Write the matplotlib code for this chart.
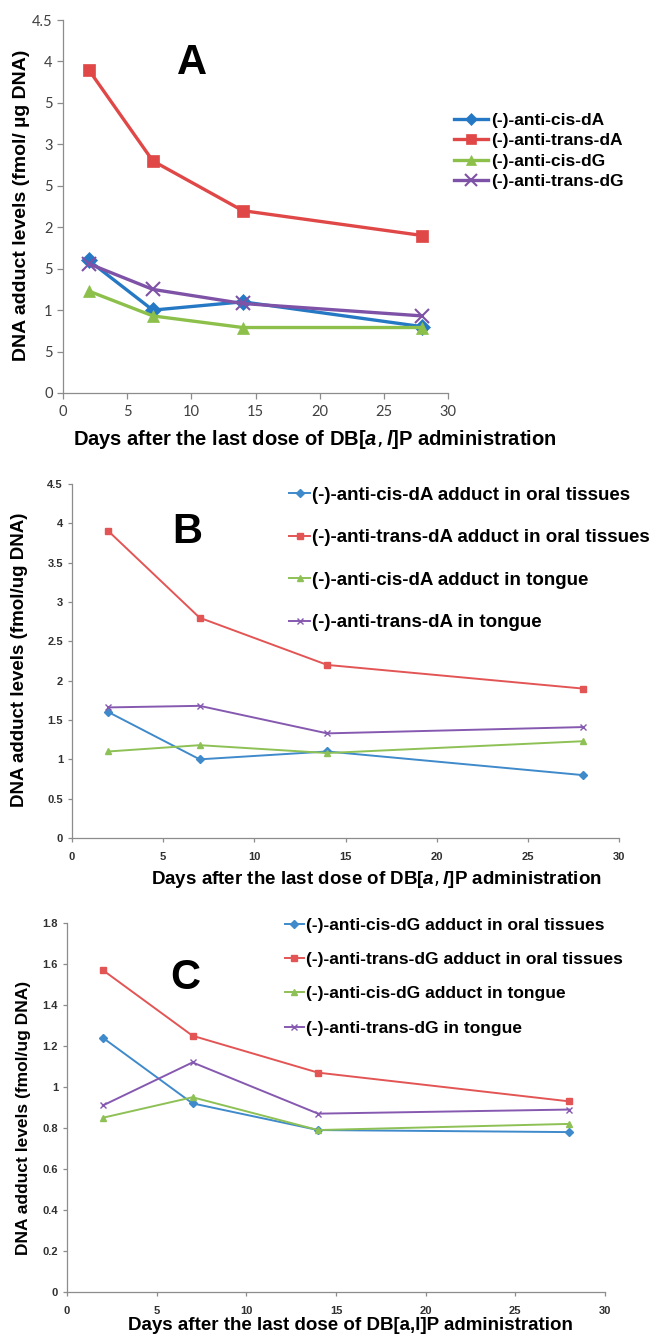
import matplotlib
matplotlib.use("agg")
import matplotlib.pyplot as plt

# data
DAYS = [2, 7, 14, 28]

A_LABELS = ["(-)-anti-cis-dA", "(-)-anti-trans-dA", "(-)-anti-cis-dG", "(-)-anti-trans-dG"]
A_CIS_DA = [1.60, 1.00, 1.10, 0.80]
A_TRANS_DA = [3.90, 2.80, 2.20, 1.90]
A_CIS_DG = [1.23, 0.93, 0.79, 0.79]
A_TRANS_DG = [1.56, 1.25, 1.08, 0.93]
A_YTICKS = [0, 0.5, 1, 1.5, 2, 2.5, 3, 3.5, 4, 4.5]
A_YTICKLABELS = ["0", "5", "1", "5", "2", "5", "3", "5", "4", "4.5"]

B_LABELS = ["(-)-anti-cis-dA adduct in oral tissues",
            "(-)-anti-trans-dA adduct in oral tissues",
            "(-)-anti-cis-dA adduct in tongue",
            "(-)-anti-trans-dA in tongue"]
B_CIS_ORAL = [1.60, 1.00, 1.10, 0.80]
B_TRANS_ORAL = [3.90, 2.80, 2.20, 1.90]
B_CIS_TONGUE = [1.10, 1.18, 1.08, 1.23]
B_TRANS_TONGUE = [1.66, 1.68, 1.33, 1.41]
B_YTICKS = [0, 0.5, 1, 1.5, 2, 2.5, 3, 3.5, 4, 4.5]

C_LABELS = ["(-)-anti-cis-dG adduct in oral tissues",
            "(-)-anti-trans-dG adduct in oral tissues",
            "(-)-anti-cis-dG adduct in tongue",
            "(-)-anti-trans-dG in tongue"]
C_CIS_ORAL = [1.24, 0.92, 0.79, 0.78]
C_TRANS_ORAL = [1.57, 1.25, 1.07, 0.93]
C_CIS_TONGUE = [0.85, 0.95, 0.79, 0.82]
C_TRANS_TONGUE = [0.91, 1.12, 0.87, 0.89]
C_YTICKS = [0, 0.2, 0.4, 0.6, 0.8, 1.0, 1.2, 1.4, 1.6, 1.8]

XTICKS = [0, 5, 10, 15, 20, 25, 30]

COLORS_A = ["#2579C4", "#E04848", "#8CC04A", "#7E52A6"]
COLORS_BC = ["#3F8ACB", "#E35555", "#8EC155", "#8659B0"]
MARKERS = ["D", "s", "^", "x"]

W, H = 652, 1335
AXIS_GRAY = "#8C8C8C"
FONT = "Liberation Sans"


def px_axes(fig, left, right, top, bottom):
    return fig.add_axes([left / W, 1 - bottom / H, (right - left) / W, (bottom - top) / H])


def style_axes(ax):
    for side in ["top", "right"]:
        ax.spines[side].set_visible(False)
    for side in ["left", "bottom"]:
        ax.spines[side].set_color(AXIS_GRAY)
        ax.spines[side].set_linewidth(0.9)
    ax.tick_params(length=4, width=0.9, color=AXIS_GRAY)


def panel_a(fig):
    ax = px_axes(fig, 63, 448, 20, 393)
    series = [A_CIS_DA, A_TRANS_DA, A_CIS_DG, A_TRANS_DG]
    sizes = [8, 9, 9, 10]
    for vals, lab, c, m, s in zip(series, A_LABELS, COLORS_A, MARKERS, sizes):
        ax.plot(DAYS, vals, color=c, marker=m, ms=s, lw=2.4, label=lab,
                mew=1.5 if m == "x" else 0.5, mec=c)
    ax.set_xlim(0, 30)
    ax.set_ylim(0, 4.5)
    ax.set_xticks(XTICKS)
    ax.set_yticks(A_YTICKS)
    ax.set_yticklabels(A_YTICKLABELS)
    style_axes(ax)
    for t in ax.get_xticklabels() + ax.get_yticklabels():
        t.set_fontfamily("Lato")
        t.set_fontsize(10.5)
        t.set_color("#404040")
    ax.tick_params(axis="x", pad=5)
    ax.legend(loc="upper left", bbox_to_anchor=(445 / W, 1 - 104 / H),
              bbox_transform=fig.transFigure, frameon=False,
              prop={"family": FONT, "weight": "bold", "size": 12.5},
              handlelength=2.0, handletextpad=0.15, labelspacing=0.31,
              borderpad=0, markerscale=0.8)
    fig.text(192 / W, 1 - 63 / H, "A", ha="center", va="center",
             fontsize=30, fontweight="bold", family=FONT)
    fig.text(22 / W, 1 - 205 / H, "DNA adduct levels (fmol/ \u00b5g DNA)", rotation=90,
             ha="center", va="center", fontsize=14, fontweight="bold", family=FONT)
    fig.text(315 / W, 1 - 440 / H,
             r"Days after the last dose of DB[$\mathit{a,l}$]P administration",
             ha="center", va="center", fontsize=14.5, fontweight="bold", family=FONT)


def panel_small(fig, box, series, labels, yticks, ylim, letter, letter_xy,
                legend_xy, legend_size, legend_spacing, ylabel_xy, ylabel_size,
                xlabel_xy, xlabel, xlabel_size):
    ax = px_axes(fig, *box)
    for vals, lab, c, m in zip(series, labels, COLORS_BC, MARKERS):
        ax.plot(DAYS, vals, color=c, marker=m, ms=4 if m != "x" else 5,
                lw=1.4, label=lab, mec=c, mew=1.0)
    ax.set_xlim(0, 30)
    ax.set_ylim(*ylim)
    ax.set_xticks(XTICKS)
    ax.set_yticks(yticks)
    ax.set_yticklabels([f"{v:g}" for v in yticks])
    style_axes(ax)
    ax.tick_params(length=3)
    ax.tick_params(axis="x", pad=7)
    for t in ax.get_xticklabels() + ax.get_yticklabels():
        t.set_fontfamily(FONT)
        t.set_fontweight("bold")
        t.set_fontsize(8)
        t.set_color("#303030")
    ax.legend(loc="upper left", bbox_to_anchor=(legend_xy[0] / W, 1 - legend_xy[1] / H),
              bbox_transform=fig.transFigure, frameon=False,
              prop={"family": FONT, "weight": "bold", "size": legend_size},
              handlelength=1.1, handletextpad=0.1, labelspacing=legend_spacing,
              borderpad=0)
    fig.text(letter_xy[0] / W, 1 - letter_xy[1] / H, letter, ha="center", va="center",
             fontsize=30, fontweight="bold", family=FONT)
    fig.text(ylabel_xy[0] / W, 1 - ylabel_xy[1] / H, "DNA adduct levels (fmol/ug DNA)",
             rotation=90, ha="center", va="center", fontsize=ylabel_size,
             fontweight="bold", family=FONT)
    fig.text(xlabel_xy[0] / W, 1 - xlabel_xy[1] / H, xlabel, ha="center", va="center",
             fontsize=xlabel_size, fontweight="bold", family=FONT)


fig = plt.figure(figsize=(W / 100, H / 100), dpi=100)
plt.rcParams["mathtext.fontset"] = "custom"
plt.rcParams["mathtext.it"] = "Liberation Sans:italic:bold"

panel_a(fig)
panel_small(fig, (72, 619, 484, 838),
            [B_CIS_ORAL, B_TRANS_ORAL, B_CIS_TONGUE, B_TRANS_TONGUE], B_LABELS,
            B_YTICKS, (0, 4.5), "B", (187, 532), (280, 477), 13.5, 1.36,
            (20, 660), 13.5, (376, 880),
            r"Days after the last dose of DB[$\mathit{a,l}$]P administration", 13.5)
panel_small(fig, (67, 605, 923, 1292),
            [C_CIS_ORAL, C_TRANS_ORAL, C_CIS_TONGUE, C_TRANS_TONGUE], C_LABELS,
            C_YTICKS, (0, 1.8), "C", (185, 978), (276, 909), 12.5, 1.1,
            (24, 1118), 12.5, (350, 1325),
            "Days after the last dose of DB[a,l]P administration", 13.5)

fig.savefig("out.png", dpi=100)
